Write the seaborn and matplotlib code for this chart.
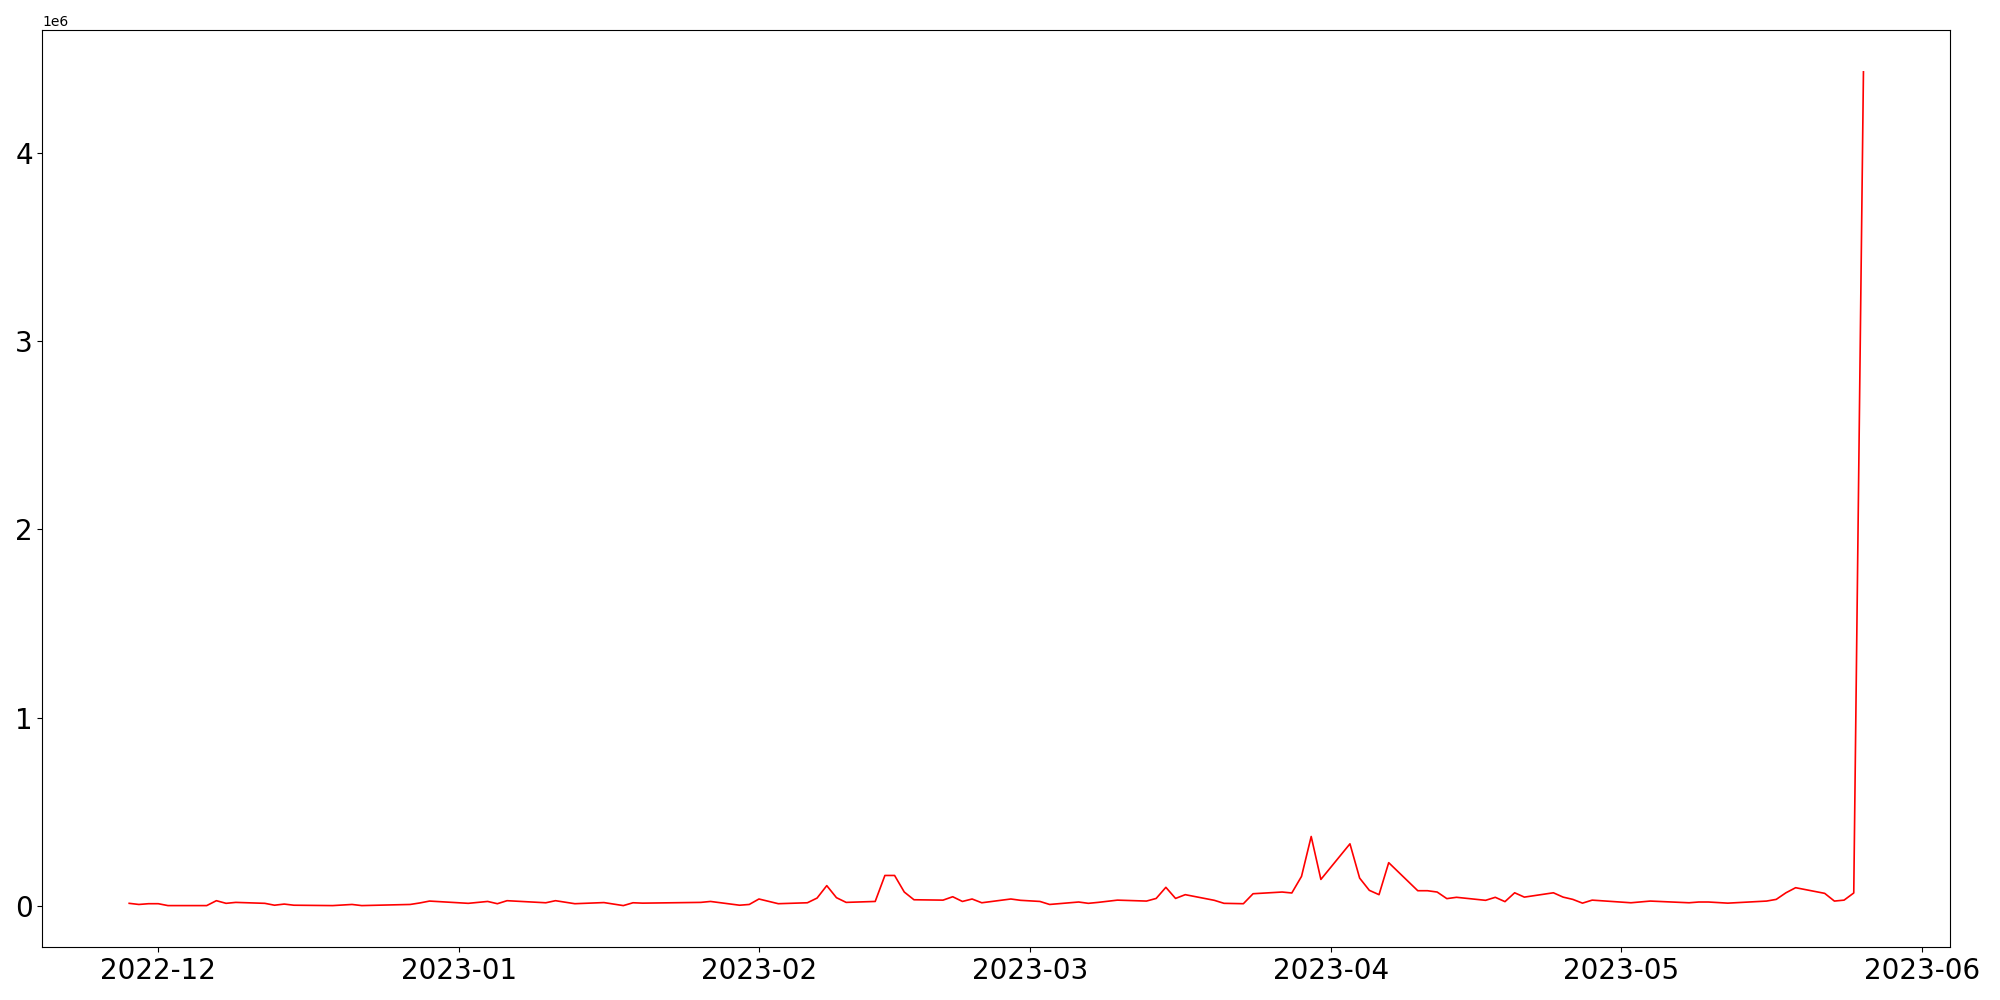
"""
Daily count line chart, Nov 2022 - May 2023.
"""

import matplotlib
matplotlib.use('Agg')
import matplotlib.pyplot as plt
import seaborn as sns
import pandas as pd

# Dates of the observed points
dates = [
    '2022-11-28', '2022-11-29', '2022-11-30', '2022-12-01', '2022-12-02',
    '2022-12-06', '2022-12-07', '2022-12-08', '2022-12-09', '2022-12-12',
    '2022-12-13', '2022-12-14', '2022-12-15', '2022-12-19', '2022-12-21',
    '2022-12-22', '2022-12-27', '2022-12-28', '2022-12-29', '2023-01-02',
    '2023-01-04', '2023-01-05', '2023-01-06', '2023-01-10', '2023-01-11',
    '2023-01-13', '2023-01-16', '2023-01-18', '2023-01-19', '2023-01-20',
    '2023-01-26', '2023-01-27', '2023-01-30', '2023-01-31', '2023-02-01',
    '2023-02-03', '2023-02-06', '2023-02-07', '2023-02-08', '2023-02-09',
    '2023-02-10', '2023-02-13', '2023-02-14', '2023-02-15', '2023-02-16',
    '2023-02-17', '2023-02-20', '2023-02-21', '2023-02-22', '2023-02-23',
    '2023-02-24', '2023-02-27', '2023-02-28', '2023-03-02', '2023-03-03',
    '2023-03-06', '2023-03-07', '2023-03-08', '2023-03-10', '2023-03-13',
    '2023-03-14', '2023-03-15', '2023-03-16', '2023-03-17', '2023-03-20',
    '2023-03-21', '2023-03-23', '2023-03-24', '2023-03-27', '2023-03-28',
    '2023-03-29', '2023-03-30', '2023-03-31', '2023-04-03', '2023-04-04',
    '2023-04-05', '2023-04-06', '2023-04-07', '2023-04-10', '2023-04-11',
    '2023-04-12', '2023-04-13', '2023-04-14', '2023-04-17', '2023-04-18',
    '2023-04-19', '2023-04-20', '2023-04-21', '2023-04-24', '2023-04-25',
    '2023-04-26', '2023-04-27', '2023-04-28', '2023-05-02', '2023-05-04',
    '2023-05-08', '2023-05-09', '2023-05-10', '2023-05-12', '2023-05-16',
    '2023-05-17', '2023-05-18', '2023-05-19', '2023-05-22', '2023-05-23',
    '2023-05-24', '2023-05-25', '2023-05-26',
]

# Values (thousands)
values_k = [
    14, 8, 12, 12, 2,
    2, 28, 14, 19, 14,
    4, 10, 4, 2, 8,
    2, 8, 16, 26, 14,
    24, 12, 28, 17, 28,
    12, 18, 2, 17, 15,
    19, 24, 4, 8, 37,
    12, 17, 42, 108, 44,
    19, 24, 162, 162, 74,
    33, 31, 49, 24, 37,
    17, 37, 30, 24, 8,
    21, 14, 19, 31, 26,
    40, 99, 40, 60, 30,
    14, 12, 65, 74, 69,
    157, 369, 141, 330, 148,
    83, 60, 230, 81, 81,
    74, 39, 46, 30, 46,
    23, 70, 47, 70, 47,
    35, 15, 31, 17, 26,
    17, 21, 21, 15, 26,
    35, 70, 97, 67, 26,
    31, 69, 4430,
]

df = pd.DataFrame({
    'date': pd.to_datetime(dates),
    'value': [v * 1000 for v in values_k],
})

fig, ax = plt.subplots(figsize=(20, 10), dpi=100)

sns.lineplot(data=df, x='date', y='value', color='red', linewidth=1.2, ax=ax)

ax.set_xlabel('')
ax.set_ylabel('')
ax.tick_params(axis='both', labelsize=20)

plt.tight_layout()
plt.savefig('out.png', dpi=100)
